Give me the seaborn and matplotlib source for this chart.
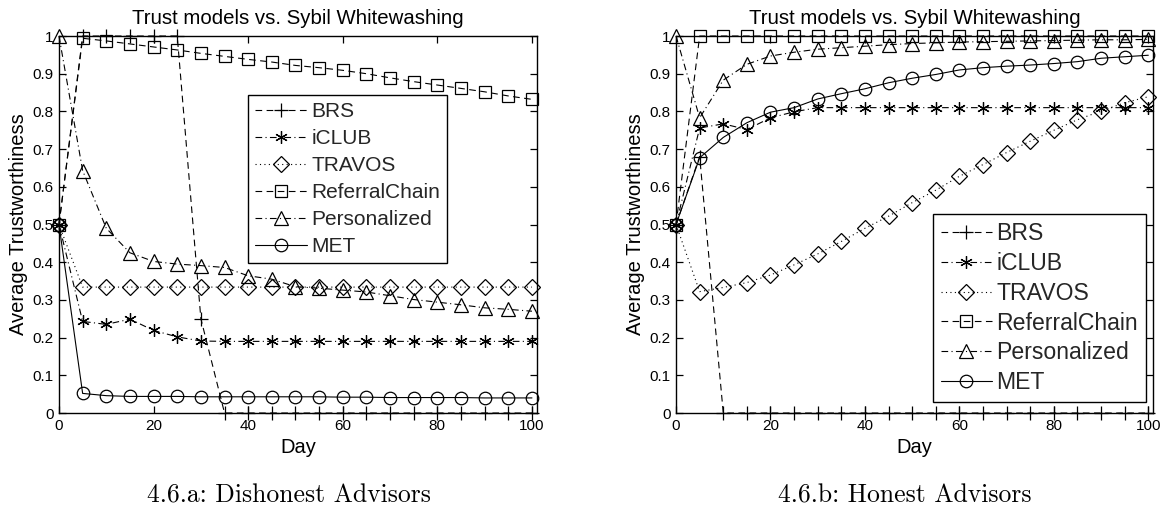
import numpy as np
import pandas as pd
import matplotlib
matplotlib.use("Agg")
import matplotlib.pyplot as plt
import seaborn as sns

# Simulation days (one sample every 5 days)
days = list(range(0, 101, 5))

# Panel (a): dishonest advisors
dis_brs = [0.5, 1.0, 1.0, 1.0, 1.0, 1.0, 0.25, 0.0, 0.0, 0.0, 0.0,
           0.0, 0.0, 0.0, 0.0, 0.0, 0.0, 0.0, 0.0, 0.0, 0.0]
dis_iclub = [0.5, 0.243, 0.235, 0.249, 0.219, 0.202, 0.191, 0.19, 0.19, 0.19, 0.19,
             0.19, 0.19, 0.19, 0.19, 0.19, 0.19, 0.19, 0.19, 0.19, 0.19]
dis_travos = [0.5, 0.334, 0.334, 0.334, 0.334, 0.334, 0.334, 0.334, 0.334, 0.334, 0.334,
              0.334, 0.334, 0.334, 0.334, 0.334, 0.334, 0.334, 0.334, 0.334, 0.334]
dis_referral = [0.5, 0.994, 0.987, 0.979, 0.971, 0.963, 0.954, 0.946, 0.938, 0.931, 0.922,
                0.916, 0.909, 0.900, 0.889, 0.879, 0.870, 0.861, 0.852, 0.841, 0.832]
dis_personal = [1.0, 0.643, 0.49, 0.425, 0.402, 0.395, 0.391, 0.386, 0.364, 0.355, 0.335,
                0.331, 0.326, 0.321, 0.311, 0.301, 0.294, 0.287, 0.279, 0.275, 0.270]
dis_met = [0.5, 0.052, 0.046, 0.044, 0.044, 0.044, 0.043, 0.043, 0.043, 0.043, 0.043,
           0.043, 0.042, 0.042, 0.041, 0.041, 0.041, 0.041, 0.040, 0.040, 0.040]

# Panel (b): honest advisors
hon_brs = [0.5, 0.68, 0.0, 0.0, 0.0, 0.0, 0.0, 0.0, 0.0, 0.0, 0.0,
           0.0, 0.0, 0.0, 0.0, 0.0, 0.0, 0.0, 0.0, 0.0, 0.0]
hon_iclub = [0.5, 0.756, 0.767, 0.752, 0.783, 0.799, 0.81, 0.81, 0.81, 0.81, 0.81,
             0.81, 0.81, 0.81, 0.81, 0.81, 0.81, 0.81, 0.81, 0.81, 0.81]
hon_travos = [0.5, 0.322, 0.333, 0.346, 0.366, 0.393, 0.422, 0.455, 0.490, 0.522, 0.558,
              0.591, 0.628, 0.659, 0.691, 0.721, 0.750, 0.778, 0.801, 0.823, 0.839]
hon_referral = [0.5, 1.0, 1.0, 1.0, 1.0, 1.0, 1.0, 1.0, 1.0, 1.0, 1.0,
                1.0, 1.0, 1.0, 1.0, 1.0, 1.0, 1.0, 1.0, 1.0, 1.0]
hon_personal = [1.0, 0.783, 0.883, 0.925, 0.947, 0.957, 0.965, 0.969, 0.973, 0.977, 0.980,
                0.982, 0.984, 0.985, 0.986, 0.987, 0.988, 0.989, 0.990, 0.990, 0.991]
hon_met = [0.5, 0.677, 0.731, 0.770, 0.798, 0.810, 0.833, 0.847, 0.860, 0.876, 0.888,
           0.898, 0.910, 0.916, 0.920, 0.923, 0.927, 0.932, 0.941, 0.945, 0.949]

models = ["BRS", "iCLUB", "TRAVOS", "ReferralChain", "Personalized", "MET"]
panel_titles = ["Trust models vs. Sybil Whitewashing", "Trust models vs. Sybil Whitewashing"]
captions = ["4.6.a: Dishonest Advisors", "4.6.b: Honest Advisors"]
x_ticks = [0, 20, 40, 60, 80, 100]
y_ticks = [0, 0.1, 0.2, 0.3, 0.4, 0.5, 0.6, 0.7, 0.8, 0.9, 1]

panels = [
    [dis_brs, dis_iclub, dis_travos, dis_referral, dis_personal, dis_met],
    [hon_brs, hon_iclub, hon_travos, hon_referral, hon_personal, hon_met],
]

# line style per model: (linestyle, marker, marker size)
styles = {
    "BRS": ((0, (6, 4)), "+", 10),
    "iCLUB": ((0, (6, 3, 1, 3)), (6, 2, 0), 9),
    "TRAVOS": ((0, (1, 3)), "D", 8.5),
    "ReferralChain": ((0, (6, 4)), "s", 8),
    "Personalized": ((0, (6, 3, 1, 3)), "^", 10),
    "MET": ("-", "o", 9),
}

sns.set_theme(style="ticks")
plt.rcParams["font.family"] = ["Liberation Sans", "DejaVu Sans"]

fig = plt.figure(figsize=(11.68, 5.16), dpi=100)
axes = [fig.add_axes([0.0505, 0.1996, 0.409, 0.7306]),
        fig.add_axes([0.5788, 0.1996, 0.4084, 0.7306])]

# legend placement and size for each panel
legend_opts = [
    dict(loc="upper left", bbox_to_anchor=(0.395, 0.843), fontsize=15,
         labelspacing=0.38, handlelength=2.5),
    dict(loc="lower right", bbox_to_anchor=(0.985, 0.028), fontsize=16.6,
         labelspacing=0.3, handlelength=2.2),
]

for ax, series, title, cap, lopt in zip(axes, panels, panel_titles, captions, legend_opts):
    df = pd.DataFrame({"Day": days})
    for name, vals in zip(models, series):
        df[name] = vals
    long = df.melt(id_vars="Day", var_name="model", value_name="trust")
    handles = []
    for name in models:
        ls, mk, ms = styles[name]
        sub = long[long["model"] == name]
        sns.lineplot(data=sub, x="Day", y="trust", ax=ax, color="black",
                     linestyle=ls, marker=mk, markersize=ms,
                     markerfacecolor="none", markeredgecolor="black",
                     markeredgewidth=0.9, linewidth=0.8, clip_on=False,
                     label=name, legend=False)
        handles.append(ax.lines[-1])

    ax.set_xlim(0, 101)
    ax.set_ylim(0, 1)
    ax.set_xticks(x_ticks)
    ax.set_yticks(y_ticks)
    ax.set_yticklabels([f"{v:g}" for v in y_ticks])
    ax.tick_params(direction="in", length=5, width=0.9, top=True, right=True,
                   labelsize=11, colors="black", pad=4)
    for sp in ax.spines.values():
        sp.set_visible(True)
        sp.set_color("black")
        sp.set_linewidth(1.0)
    ax.set_facecolor("white")
    ax.set_title(title, fontsize=14.7, pad=9, color="black")
    ax.set_xlabel("Day", fontsize=14.5, labelpad=4, color="black")
    ax.set_ylabel("Average Trustworthiness", fontsize=14.5, labelpad=3, color="black")

    leg = ax.legend(handles=handles, labels=models, frameon=True,
                    fancybox=False, edgecolor="black", framealpha=1,
                    handletextpad=0.2, borderpad=0.35, borderaxespad=0, **lopt)
    leg.get_frame().set_linewidth(1.0)

    bb = ax.get_position()
    fig.text((bb.x0 + bb.x1) / 2 - 0.008, 0.04, cap, ha="center", va="center",
             fontsize=18.5, family=["cmr10", "DejaVu Serif"], color="black")

fig.savefig("out.png", dpi=100, facecolor="white")
